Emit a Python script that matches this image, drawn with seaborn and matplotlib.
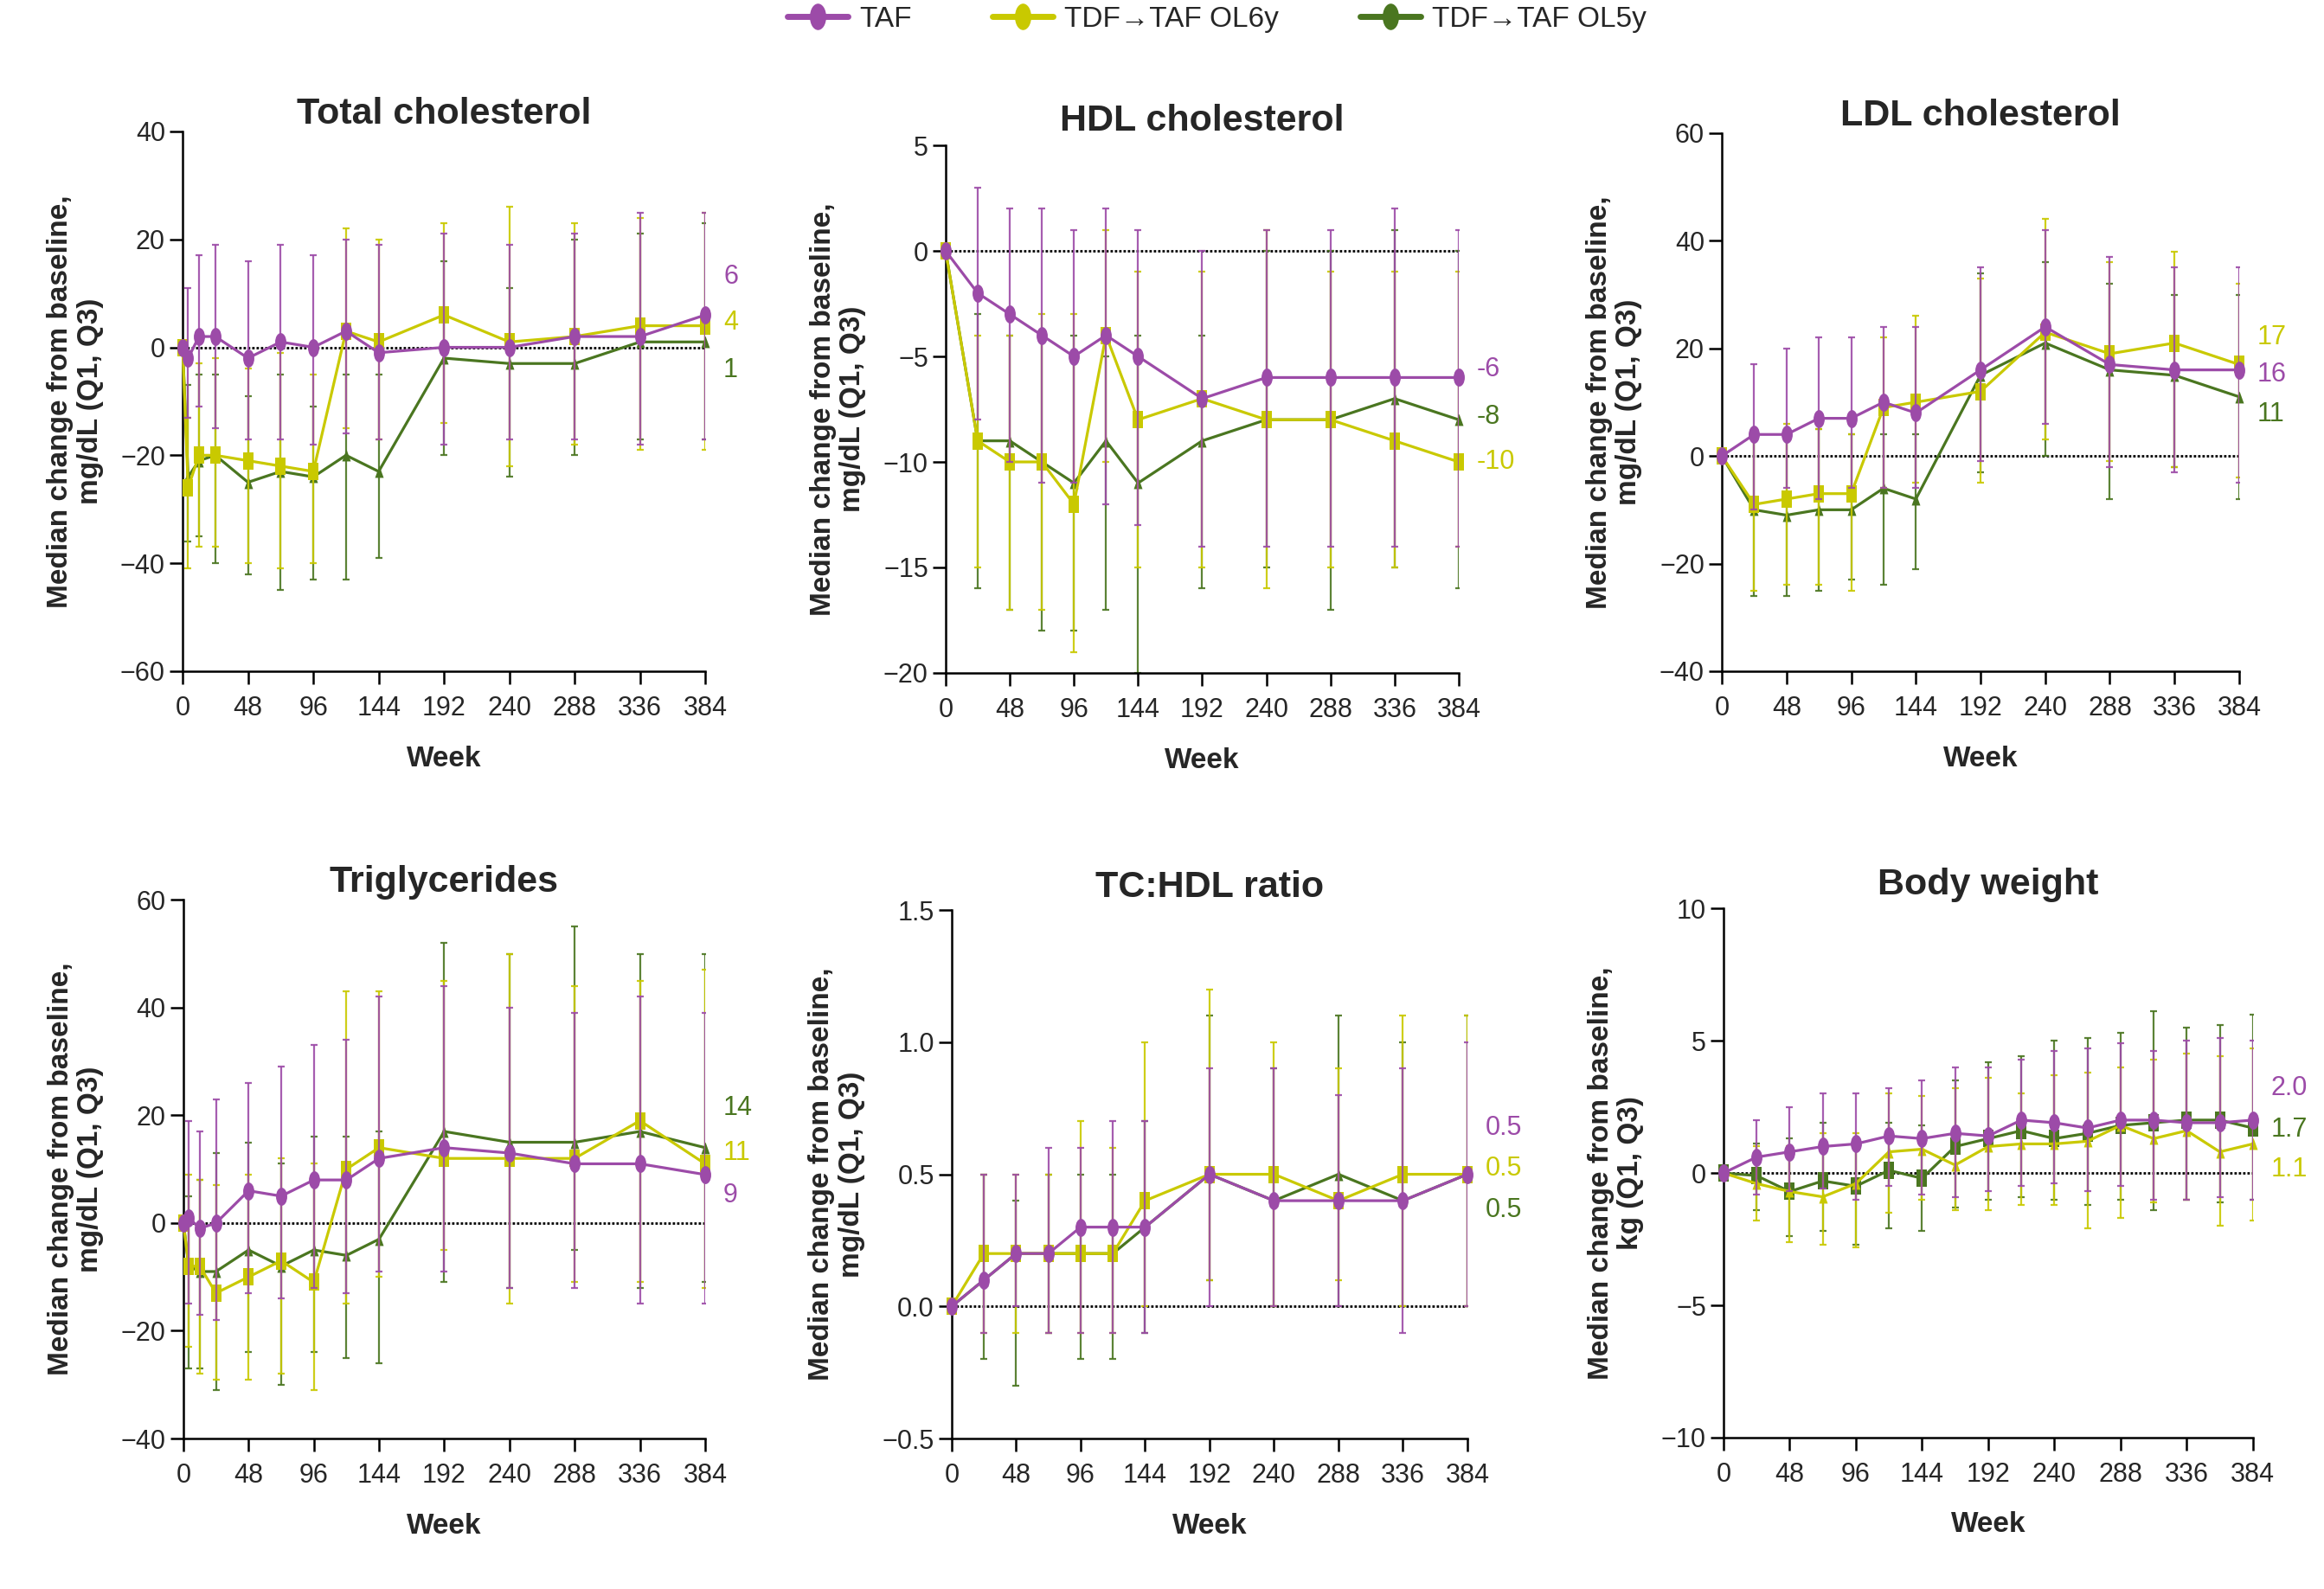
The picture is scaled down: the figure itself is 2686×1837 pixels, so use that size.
"""
Lipid and body-weight changes from baseline over 384 weeks (median, Q1-Q3).
Six-panel figure: three lipid panels on top, triglycerides / ratio / weight below.
"""

import numpy as np
import matplotlib
matplotlib.use("Agg")
import matplotlib.pyplot as plt
import seaborn as sns
from matplotlib.path import Path
from matplotlib.transforms import Affine2D
from matplotlib.lines import Line2D

# ---------------------------------------------------------------- data
GROUPS = ["TAF", "TDF\u2192TAF OL6y", "TDF\u2192TAF OL5y"]

WEEKS_EARLY = [0, 4, 12, 24, 48, 72, 96, 120, 144, 192, 240, 288, 336, 384]
WEEKS_STD = [0, 24, 48, 72, 96, 120, 144, 192, 240, 288, 336, 384]
WEEKS_BW = [0, 24, 48, 72, 96, 120, 144, 168, 192, 216, 240, 264, 288, 312, 336, 360, 384]

# Total cholesterol
TC_TAF = [0, -2, 2, 2, -2, 1, 0, 3, -1, 0, 0, 2, 2, 6]
TC_TAF_Q1 = [0, -13, -11, -15, -17, -17, -18, -16, -17, -18, -17, -17, -18, -17]
TC_TAF_Q3 = [0, 11, 17, 19, 16, 19, 17, 20, 19, 21, 19, 21, 25, 25]
TC_OL6 = [0, -26, -20, -20, -21, -22, -23, 3, 1, 6, 1, 2, 4, 4]
TC_OL6_Q1 = [0, -41, -37, -37, -40, -41, -40, -15, -17, -14, -22, -18, -19, -19]
TC_OL6_Q3 = [0, -13, -3, -2, -4, -1, -5, 22, 20, 23, 26, 23, 24, 25]
TC_OL5 = [0, -24, -21, -20, -25, -23, -24, -20, -23, -2, -3, -3, 1, 1]
TC_OL5_Q1 = [0, -36, -35, -40, -42, -45, -43, -43, -39, -20, -24, -20, -17, -17]
TC_OL5_Q3 = [0, -7, -5, -5, -9, -5, -11, -5, -5, 16, 11, 20, 21, 23]

# HDL cholesterol
HDL_TAF = [0, -2, -3, -4, -5, -4, -5, -7, -6, -6, -6, -6]
HDL_TAF_Q1 = [0, -8, -10, -11, -11, -12, -13, -14, -14, -14, -14, -14]
HDL_TAF_Q3 = [0, 3, 2, 2, 1, 2, 1, 0, 1, 1, 2, 1]
HDL_OL6 = [0, -9, -10, -10, -12, -4, -8, -7, -8, -8, -9, -10]
HDL_OL6_Q1 = [0, -15, -17, -17, -19, -10, -15, -15, -16, -15, -15, -14]
HDL_OL6_Q3 = [0, -4, -4, -3, -3, 1, -1, -1, 1, -1, -1, -1]
HDL_OL5 = [0, -9, -9, -10, -11, -9, -11, -9, -8, -8, -7, -8]
HDL_OL5_Q1 = [0, -16, -17, -18, -18, -17, -20, -16, -15, -17, -15, -16]
HDL_OL5_Q3 = [0, -3, -4, -4, -4, -5, -4, -4, 0, 0, 1, 0]

# LDL cholesterol
LDL_TAF = [0, 4, 4, 7, 7, 10, 8, 16, 24, 17, 16, 16]
LDL_TAF_Q1 = [0, -10, -6, -8, -6, -6, -6, -1, 6, -2, -3, -5]
LDL_TAF_Q3 = [0, 17, 20, 22, 22, 24, 24, 35, 42, 37, 35, 35]
LDL_OL6 = [0, -9, -8, -7, -7, 9, 10, 12, 23, 19, 21, 17]
LDL_OL6_Q1 = [0, -25, -24, -24, -25, -6, -5, -5, 3, -1, -2, -4]
LDL_OL6_Q3 = [0, 4, 6, 5, 4, 22, 26, 33, 44, 36, 38, 32]
LDL_OL5 = [0, -10, -11, -10, -10, -6, -8, 15, 21, 16, 15, 11]
LDL_OL5_Q1 = [0, -26, -26, -25, -23, -24, -21, -3, 0, -8, -2, -8]
LDL_OL5_Q3 = [0, 5, 3, 5, 4, 4, 4, 34, 36, 32, 30, 30]

# Triglycerides
TG_TAF = [0, 1, -1, 0, 6, 5, 8, 8, 12, 14, 13, 11, 11, 9]
TG_TAF_Q1 = [0, -15, -17, -18, -13, -14, -12, -13, -9, -9, -12, -12, -15, -15]
TG_TAF_Q3 = [0, 19, 17, 23, 26, 29, 33, 34, 42, 44, 40, 39, 42, 39]
TG_OL6 = [0, -8, -8, -13, -10, -7, -11, 10, 14, 12, 12, 12, 19, 11]
TG_OL6_Q1 = [0, -23, -28, -29, -29, -28, -31, -15, -10, -5, -15, -11, -11, -12]
TG_OL6_Q3 = [0, 9, 8, 7, 9, 12, 11, 43, 43, 45, 50, 44, 45, 47]
TG_OL5 = [0, -8, -9, -9, -5, -8, -5, -6, -3, 17, 15, 15, 17, 14]
TG_OL5_Q1 = [0, -27, -27, -31, -24, -30, -24, -25, -26, -11, -12, -5, -12, -11]
TG_OL5_Q3 = [0, 5, 8, 13, 15, 11, 16, 16, 17, 52, 50, 55, 50, 50]

# TC:HDL ratio
RAT_TAF = [0, 0.1, 0.2, 0.2, 0.3, 0.3, 0.3, 0.5, 0.4, 0.4, 0.4, 0.5]
RAT_TAF_Q1 = [0, -0.1, 0.0, -0.1, -0.1, -0.1, -0.1, 0.0, 0.0, 0.0, -0.1, 0.0]
RAT_TAF_Q3 = [0, 0.5, 0.5, 0.6, 0.6, 0.7, 0.7, 0.9, 0.9, 0.8, 0.9, 1.0]
RAT_OL6 = [0, 0.2, 0.2, 0.2, 0.2, 0.2, 0.4, 0.5, 0.5, 0.4, 0.5, 0.5]
RAT_OL6_Q1 = [0, -0.1, -0.1, -0.1, -0.1, -0.1, 0.0, 0.1, 0.0, 0.1, 0.0, 0.0]
RAT_OL6_Q3 = [0, 0.5, 0.5, 0.5, 0.7, 0.6, 1.0, 1.2, 1.0, 0.9, 1.1, 1.1]
RAT_OL5 = [0, 0.1, 0.2, 0.2, 0.2, 0.2, 0.3, 0.5, 0.4, 0.5, 0.4, 0.5]
RAT_OL5_Q1 = [0, -0.2, -0.3, -0.1, -0.2, -0.2, -0.1, 0.1, 0.0, 0.0, 0.0, 0.0]
RAT_OL5_Q3 = [0, 0.5, 0.4, 0.5, 0.5, 0.5, 0.7, 1.1, 0.9, 1.1, 1.0, 1.1]

# Body weight (kg)
BW_TAF = [0, 0.6, 0.8, 1.0, 1.1, 1.4, 1.3, 1.5, 1.4, 2.0, 1.9, 1.7, 2.0, 2.0, 1.9, 1.9, 2.0]
BW_TAF_Q1 = [0, -0.8, -0.7, -0.6, -1.0, -0.5, -0.8, -0.9, -0.7, -0.5, -0.4, -0.7, -0.5, -1.0, -1.0, -0.9, -1.0]
BW_TAF_Q3 = [0, 2.0, 2.5, 3.0, 3.0, 3.2, 3.5, 4.0, 4.0, 4.3, 4.6, 4.7, 4.9, 4.6, 5.0, 5.1, 5.0]
BW_OL6 = [0, -0.4, -0.7, -0.9, -0.4, 0.8, 0.9, 0.3, 1.0, 1.1, 1.1, 1.2, 1.8, 1.3, 1.6, 0.8, 1.1]
BW_OL6_Q1 = [0, -1.8, -2.6, -2.7, -2.8, -1.5, -1.0, -1.4, -1.4, -1.2, -1.2, -2.1, -1.7, -1.1, -1.0, -2.0, -1.8]
BW_OL6_Q3 = [0, 1.0, 1.0, 1.5, 1.5, 3.0, 2.9, 3.2, 3.6, 3.0, 3.7, 3.8, 4.0, 4.3, 4.5, 4.4, 4.7]
BW_OL5 = [0, -0.1, -0.7, -0.3, -0.5, 0.1, -0.2, 1.0, 1.3, 1.6, 1.3, 1.5, 1.8, 1.9, 2.0, 2.0, 1.7]
BW_OL5_Q1 = [0, -1.4, -2.4, -2.2, -2.7, -2.1, -2.2, -1.3, -1.0, -0.9, -1.0, -1.2, -1.0, -1.4, -1.0, -1.1, -1.0]
BW_OL5_Q3 = [0, 1.1, 1.3, 1.9, 1.2, 1.9, 1.8, 3.5, 4.2, 4.4, 5.0, 5.1, 5.3, 6.1, 5.5, 5.6, 6.0]

# ---------------------------------------------------------------- style
COLORS = {"TAF": "#9C4BA8", "OL6": "#C9C900", "OL5": "#4A7620"}

# tall ellipse, tall rectangle and narrow triangle markers as in the source figure
ELLIPSE = Path.unit_circle().transformed(Affine2D().scale(0.62, 1.0))
RECT = Path([(-0.31, -0.5), (0.31, -0.5), (0.31, 0.5), (-0.31, 0.5), (-0.31, -0.5)], closed=True)
TRI = Path([(-0.36, -0.5), (0.36, -0.5), (0.0, 0.5), (-0.36, -0.5)], closed=True)

MG_LABEL = "Median change from baseline,\nmg/dL (Q1, Q3)"
KG_LABEL = "Median change from baseline,\nkg (Q1, Q3)"

PANELS = [
    dict(title="Total cholesterol", weeks=WEEKS_EARLY, ylim=(-60, 40), ticks=[-60, -40, -20, 0, 20, 40],
         series={"TAF": (TC_TAF, TC_TAF_Q1, TC_TAF_Q3), "OL6": (TC_OL6, TC_OL6_Q1, TC_OL6_Q3),
                 "OL5": (TC_OL5, TC_OL5_Q1, TC_OL5_Q3)},
         label_y={"TAF": 13, "OL6": 4.6, "OL5": -4.2}, fmt="{:.0f}", ylabel=MG_LABEL,
         rect=[0.0786, 0.5776, 0.2249, 0.3397], pad=5),
    dict(title="HDL cholesterol", weeks=WEEKS_STD, ylim=(-20, 5), ticks=[-20, -15, -10, -5, 0, 5],
         series={"TAF": (HDL_TAF, HDL_TAF_Q1, HDL_TAF_Q3), "OL6": (HDL_OL6, HDL_OL6_Q1, HDL_OL6_Q3),
                 "OL5": (HDL_OL5, HDL_OL5_Q1, HDL_OL5_Q3)},
         label_y={"TAF": -5.6, "OL6": -10.0, "OL5": -7.85}, fmt="{:.0f}", ylabel=MG_LABEL,
         rect=[0.4069, 0.5765, 0.2208, 0.3320], pad=12),
    dict(title="LDL cholesterol", weeks=WEEKS_STD, ylim=(-40, 60), ticks=[-40, -20, 0, 20, 40, 60],
         series={"TAF": (LDL_TAF, LDL_TAF_Q1, LDL_TAF_Q3), "OL6": (LDL_OL6, LDL_OL6_Q1, LDL_OL6_Q3),
                 "OL5": (LDL_OL5, LDL_OL5_Q1, LDL_OL5_Q3)},
         label_y={"TAF": 15.1, "OL6": 22, "OL5": 7.7}, fmt="{:.0f}", ylabel=MG_LABEL,
         rect=[0.7409, 0.5776, 0.2226, 0.3386], pad=3),
    dict(title="Triglycerides", weeks=WEEKS_EARLY, ylim=(-40, 60), ticks=[-40, -20, 0, 20, 40, 60],
         series={"TAF": (TG_TAF, TG_TAF_Q1, TG_TAF_Q3), "OL6": (TG_OL6, TG_OL6_Q1, TG_OL6_Q3),
                 "OL5": (TG_OL5, TG_OL5_Q1, TG_OL5_Q3)},
         label_y={"TAF": 5.1, "OL6": 13.0, "OL5": 21.3}, fmt="{:.0f}", ylabel=MG_LABEL,
         rect=[0.0789, 0.0947, 0.2245, 0.3390], pad=5),
    dict(title="TC:HDL ratio", weeks=WEEKS_STD, ylim=(-0.5, 1.5), ticks=[-0.5, 0.0, 0.5, 1.0, 1.5],
         series={"TAF": (RAT_TAF, RAT_TAF_Q1, RAT_TAF_Q3), "OL6": (RAT_OL6, RAT_OL6_Q1, RAT_OL6_Q3),
                 "OL5": (RAT_OL5, RAT_OL5_Q1, RAT_OL5_Q3)},
         label_y={"TAF": 0.676, "OL6": 0.52, "OL5": 0.363}, fmt="{:.1f}", ylabel=MG_LABEL,
         rect=[0.4095, 0.0947, 0.2219, 0.3326], pad=11),
    dict(title="Body weight", weeks=WEEKS_BW, ylim=(-10, 10), ticks=[-10, -5, 0, 5, 10],
         series={"TAF": (BW_TAF, BW_TAF_Q1, BW_TAF_Q3), "OL6": (BW_OL6, BW_OL6_Q1, BW_OL6_Q3),
                 "OL5": (BW_OL5, BW_OL5_Q1, BW_OL5_Q3)},
         label_y={"TAF": 3.22, "OL6": 0.14, "OL5": 1.65}, fmt="{:.1f}", ylabel=KG_LABEL,
         rect=[0.7416, 0.0953, 0.2278, 0.3330], pad=12, swap_markers=True),
]

sns.set_style("ticks")
plt.rcParams["font.family"] = ["Liberation Sans", "DejaVu Sans"]
plt.rcParams["axes.unicode_minus"] = True

fig = plt.figure(figsize=(26.86, 18.37), dpi=100)

for panel in PANELS:
    ax = fig.add_axes(panel["rect"])
    weeks = np.asarray(panel["weeks"], dtype=float)
    markers = {"TAF": (ELLIPSE, 15), "OL6": (RECT, 14), "OL5": (TRI, 10)}
    if panel.get("swap_markers"):
        markers["OL6"], markers["OL5"] = (TRI, 10), (RECT, 14)

    ax.axhline(0, color="black", lw=2.0, ls=(0, (1, 0.8)), zorder=1)

    # draw order: OL5y under OL6y under TAF
    for z, key in enumerate(["OL5", "OL6", "TAF"]):
        med, q1, q3 = (np.asarray(v, dtype=float) for v in panel["series"][key])
        color = COLORS[key]
        yerr = [np.maximum(med - q1, 0), np.maximum(q3 - med, 0)]
        ax.errorbar(weeks, med, yerr=yerr, fmt="none", ecolor=color, elinewidth=1.6,
                    capsize=2.8, capthick=1.6, alpha=0.9, zorder=2 + 2 * z)
        marker, ms = markers[key]
        sns.lineplot(x=weeks, y=med, ax=ax, color=color, lw=2.3, marker=marker,
                     markersize=ms, mec=color, mew=0, estimator=None, sort=False,
                     clip_on=False, zorder=3 + 2 * z)
        ax.annotate(panel["fmt"].format(med[-1]), xy=(384, panel["label_y"][key]),
                    xytext=(15, 0), textcoords="offset points", ha="left", va="center",
                    fontsize=22, color=color, annotation_clip=False)

    ax.set_xlim(0, 384)
    ax.set_ylim(*panel["ylim"])
    ax.set_xticks(range(0, 385, 48))
    ax.set_yticks(panel["ticks"])
    ax.tick_params(axis="both", labelsize=22, length=11, width=1.8, direction="out", color="black")
    ax.tick_params(axis="x", pad=9)
    for side in ["top", "right"]:
        ax.spines[side].set_visible(False)
    for side in ["left", "bottom"]:
        ax.spines[side].set_linewidth(1.8)
        ax.spines[side].set_color("black")

    ax.set_title(panel["title"], fontsize=31, fontweight="bold", pad=panel["pad"])
    ax.set_xlabel("Week", fontsize=24, fontweight="bold", labelpad=20)
    ax.set_ylabel(panel["ylabel"], fontsize=24, fontweight="bold", labelpad=14, linespacing=1.15)

handles = [Line2D([], [], color=COLORS[k], lw=5, marker=ELLIPSE, markersize=22, mew=0)
           for k in ["TAF", "OL6", "OL5"]]
fig.legend(handles, GROUPS, loc="center", bbox_to_anchor=(0.5236, 0.988), ncol=3,
           frameon=False, fontsize=24, handlelength=2.1, handletextpad=0.4, columnspacing=2.8)

plt.savefig("out.png", dpi=100)
plt.close()
